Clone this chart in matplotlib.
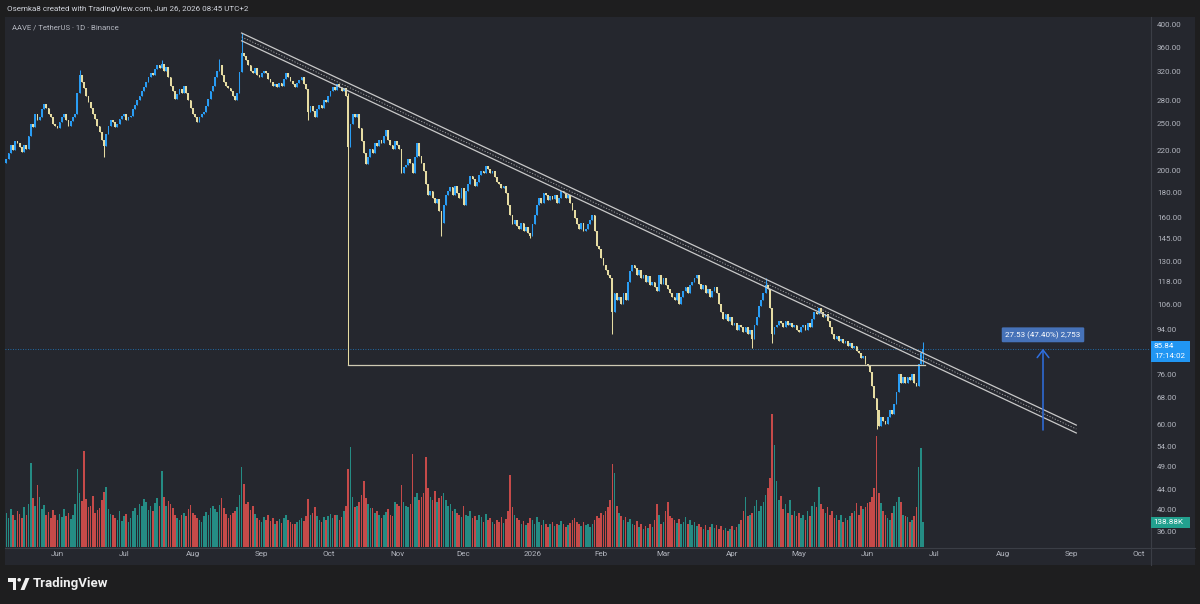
import numpy as np
import pandas as pd
import matplotlib
matplotlib.use("Agg")
import matplotlib.pyplot as plt
import matplotlib.dates as mdates
from matplotlib.patches import Rectangle, Polygon, Circle
from matplotlib.lines import Line2D
from matplotlib.transforms import Affine2D
from matplotlib.ticker import FixedLocator, FixedFormatter, NullLocator

plt.rcParams['font.family'] = ['Roboto', 'DejaVu Sans']

# ---------------- data ----------------
start_date = '2025-05-09'
first_open = 208.0
closes = [
    212, 218, 226, 221, 230, 228, 224, 219, 226, 222,
    236, 250, 246, 262, 255, 258, 268, 275, 270, 262,
    258, 250, 248, 245, 252, 258, 262, 255, 248, 254,
    258, 262, 290, 315, 305, 296, 285, 278, 270, 262,
    256, 248, 240, 232, 225, 238, 248, 255, 252, 246,
    250, 256, 260, 262, 255, 258, 260, 268, 274, 280,
    286, 292, 298, 305, 312, 318, 315, 325, 330, 326,
    332, 322, 328, 312, 300, 292, 282, 288, 295, 290,
    300, 290, 280, 270, 262, 258, 252, 258, 262, 265,
    272, 282, 292, 300, 312, 322, 330, 316, 305, 300,
    296, 292, 285, 280, 290, 320, 350, 345, 338, 330,
    322, 318, 326, 315, 312, 318, 322, 318, 310, 305,
    300, 302, 298, 304, 300, 310, 318, 312, 306, 302,
    298, 304, 308, 312, 302, 295, 265, 272, 266, 258,
    268, 274, 270, 280, 278, 286, 292, 298, 294, 302,
    298, 292, 296, 285, 224, 250, 262, 258, 262, 245,
    230, 218, 207, 214, 222, 218, 228, 225, 232, 228,
    236, 243, 232, 226, 222, 230, 226, 222, 198, 204,
    206, 212, 208, 198, 214, 228, 215, 208, 200, 188,
    178, 182, 176, 172, 175, 165, 156, 170, 178, 182,
    185, 178, 186, 180, 176, 184, 170, 182, 188, 195,
    192, 186, 190, 196, 200, 198, 205, 202, 198, 200,
    194, 190, 188, 184, 186, 180, 170, 162, 155, 158,
    154, 152, 156, 150, 153, 149, 147, 155, 162, 170,
    176, 172, 180, 178, 174, 177, 175, 178, 172, 176,
    182, 180, 176, 178, 172, 166, 160, 155, 152, 156,
    150, 152, 155, 158, 162, 150, 140, 138, 132, 128,
    125, 122, 120, 102, 112, 108, 110, 106, 112, 108,
    118, 124, 128, 126, 122, 125, 120, 122, 118, 121,
    116, 118, 115, 113, 122, 117, 120, 116, 114, 112,
    110, 108, 112, 106, 110, 113, 115, 112, 116, 118,
    120, 122, 117, 114, 116, 112, 114, 110, 113, 115,
    112, 106, 102, 99, 101, 98, 100, 96, 97, 94,
    96, 95, 93, 95, 92, 94, 90, 96, 100, 105,
    108, 112, 116, 114, 104, 92, 95, 96, 98, 97,
    95, 98, 96, 97, 95, 96, 94, 93, 95, 96,
    94, 97, 95, 99, 102, 101, 104, 102, 100, 101,
    98, 95, 92, 90, 91, 89, 90, 88, 89, 87,
    88, 86, 87, 85, 84, 82, 83, 80, 79, 77,
    72, 68, 64, 59.5, 62, 61, 60, 62, 64, 63,
    66, 70, 76, 73, 75, 73, 75, 74, 76, 73,
    72, 80, 84, 85.84,
]
volumes_k = [
    190, 160, 210, 175, 150, 200, 185, 160, 220, 175,
    240, 467, 270, 230, 344, 280, 210, 235, 180, 195,
    160, 205, 175, 150, 185, 165, 210, 170, 190, 155,
    175, 240, 433, 300, 255, 533, 265, 220, 230, 283,
    190, 205, 215, 260, 305, 333, 210, 185, 175, 160,
    150, 200, 145, 170, 185, 140, 160, 200, 215, 180,
    240, 225, 265, 250, 205, 230, 200, 245, 270, 225,
    422, 280, 230, 255, 240, 215, 180, 160, 150, 175,
    190, 170, 210, 235, 190, 175, 160, 150, 140, 170,
    195, 180, 215, 230, 210, 195, 235, 272, 215, 185,
    160, 175, 190, 200, 220, 289, 444, 350, 240, 250,
    205, 230, 185, 160, 150, 140, 165, 150, 175, 145,
    160, 130, 145, 155, 135, 160, 175, 150, 140, 130,
    125, 140, 150, 160, 145, 170, 266, 180, 190, 222,
    170, 150, 140, 165, 150, 170, 185, 160, 175, 180,
    150, 165, 200, 230, 433, 555, 280, 220, 230, 250,
    290, 366, 270, 240, 215, 217, 190, 200, 175, 160,
    180, 195, 210, 180, 170, 250, 240, 230, 344, 250,
    230, 220, 240, 516, 280, 300, 260, 280, 300, 500,
    330, 280, 260, 310, 250, 270, 283, 300, 260, 230,
    240, 200, 210, 190, 175, 165, 230, 180, 170, 200,
    160, 170, 150, 175, 165, 140, 185, 150, 160, 140,
    130, 150, 140, 165, 135, 155, 200, 400, 220, 180,
    160, 150, 130, 145, 120, 135, 160, 150, 130, 165,
    140, 120, 150, 130, 110, 125, 140, 115, 130, 120,
    145, 125, 110, 120, 135, 150, 160, 140, 125, 115,
    140, 120, 130, 110, 125, 150, 170, 160, 190, 175,
    200, 220, 260, 460, 410, 230, 190, 170, 150, 165,
    140, 155, 130, 120, 145, 110, 125, 100, 115, 105,
    130, 110, 150, 240, 180, 130, 140, 200, 250, 170,
    160, 150, 135, 155, 125, 140, 165, 130, 150, 120,
    140, 115, 125, 110, 100, 120, 95, 110, 130, 105,
    120, 100, 115, 95, 105, 90, 100, 115, 95, 110,
    130, 150, 200, 280, 170, 180, 190, 230, 260, 200,
    230, 250, 290, 330, 385, 739, 566, 365, 260, 285,
    210, 240, 190, 260, 180, 200, 170, 190, 160, 175,
    150, 200, 170, 230, 250, 220, 333, 240, 210, 190,
    220, 180, 200, 160, 175, 150, 180, 140, 160, 150,
    170, 190, 200, 245, 180, 230, 210, 220, 244, 250,
    278, 330, 616, 300, 244, 200, 180, 160, 150, 190,
    230, 250, 278, 250, 180, 170, 165, 140, 150, 170,
    222, 444, 550, 138.88,
]
wick_highs = {'2025-06-11': 323, '2025-07-18': 338, '2025-08-13': 340,
              '2025-08-23': 385, '2025-10-10': 290, '2026-04-16': 120,
              '2026-06-26': 88.5}
wick_lows = {'2025-06-22': 214, '2025-09-22': 255, '2025-10-10': 79.5,
             '2025-11-21': 147, '2025-12-31': 145, '2026-02-06': 92,
             '2026-04-10': 86, '2026-04-19': 88, '2026-06-05': 58.5,
             '2026-06-26': 80}

month_ticks = ['2025-06-01', '2025-07-01', '2025-08-01', '2025-09-01', '2025-10-01',
               '2025-11-01', '2025-12-01', '2026-01-01', '2026-02-01', '2026-03-01',
               '2026-04-01', '2026-05-01', '2026-06-01', '2026-07-01', '2026-08-01',
               '2026-09-01', '2026-10-01']
month_labels = ['Jun', 'Jul', 'Aug', 'Sep', 'Oct', 'Nov', 'Dec', '2026', 'Feb', 'Mar',
                'Apr', 'May', 'Jun', 'Jul', 'Aug', 'Sep', 'Oct']
price_ticks = [400, 360, 320, 280, 250, 220, 200, 180, 160, 145, 130, 118, 106, 94,
               76, 68, 60, 54, 49, 44, 40, 36]

last_price = 85.84
countdown = '17:14:02'
last_volume_label = '138.88K'

channel_dates = ['2025-08-23', '2026-09-03']
channel_upper = [385, 59.7]
channel_lower = [371, 57.5]
support_price = 79.5
support_dates = ['2025-10-10', '2026-06-27']
measure_date = '2026-08-19'
measure_from, measure_to = 58.31, 85.84
measure_label = '27.53 (47.40%) 2,753'

title = 'Osemka8 created with TradingView.com, Jun 26, 2026 08:45 UTC+2'
symbol = 'AAVE / TetherUS \u00b7 1D \u00b7 Binance'

# ---------------- styles ----------------
W, H = 1200, 604
OUTER = '#1e1e1f'
PANEL = '#25272e'
SEP = '#3b3e46'
TXT = '#b2b5be'
UP = '#2a9df4'
DOWN = '#e6dca2'
VUP = '#26a69a'
VDN = '#ef5350'
LINE = '#c9c9c9'

fig = plt.figure(figsize=(W / 100, H / 100), dpi=100)
fig.patch.set_facecolor(OUTER)
PX = Affine2D().scale(1, -1).translate(0, H)  # pixel coords from top-left


def fx(px):
    return px / W


def fy(py):
    return 1 - py / H


fig.patches.append(Rectangle((5, 17), 1190, 548, transform=PX, facecolor=PANEL,
                             edgecolor='none', zorder=-2))
fig.add_artist(Line2D([1150.5, 1150.5], [17, 565], transform=PX, color=SEP, lw=0.8, zorder=-1))
fig.add_artist(Line2D([5, 1195], [547.5, 547.5], transform=PX, color=SEP, lw=0.8, zorder=-1))

rect = [fx(5), fy(547), 1145 / W, 530 / H]
axv = fig.add_axes(rect)
ax = fig.add_axes(rect)
for a in (axv, ax):
    a.set_facecolor('none')
    for s in a.spines.values():
        s.set_visible(False)

dates = pd.date_range(start_date, periods=len(closes), freq='D')
x = mdates.date2num(dates)
c = np.array(closes, dtype=float)
o = np.array([first_open] + closes[:-1], dtype=float)
hi = np.maximum(o, c)
lo = np.minimum(o, c)
keys = [d.strftime('%Y-%m-%d') for d in dates]
for i, k in enumerate(keys):
    if k in wick_highs:
        hi[i] = max(hi[i], wick_highs[k])
    if k in wick_lows:
        lo[i] = min(lo[i], wick_lows[k])
up = c >= o

d0 = mdates.date2num(pd.Timestamp('2025-06-01'))
xlim = (d0 - 23.6, d0 + 492.2)

# volume
v = np.array(volumes_k, dtype=float)
axv.bar(x, v, width=0.72, color=np.where(up, VUP, VDN), alpha=0.8, linewidth=0)
axv.set_xlim(*xlim)
axv.set_ylim(0, 530 * 5.555)
axv.set_xticks([])
axv.set_yticks([])

# candles
ax.set_yscale('log')
ax.vlines(x, lo, hi, colors=np.where(up, UP, DOWN), lw=0.75, zorder=3)
body_h = np.maximum(np.abs(c - o), c * 0.004)
ax.bar(x, body_h, bottom=np.minimum(o, c), width=0.8, color=np.where(up, UP, DOWN),
       linewidth=0, zorder=4)
ax.set_xlim(*xlim)
ax.set_ylim(33.44, 415.5)

# drawings
cx = mdates.date2num(pd.to_datetime(channel_dates))
ax.plot(cx, channel_upper, color=LINE, lw=0.9, zorder=5)
ax.plot(cx, channel_lower, color=LINE, lw=0.9, zorder=5)
ax.plot(cx, np.sqrt(np.array(channel_upper) * np.array(channel_lower)), color=LINE,
        lw=0.6, ls=(0, (1.5, 2)), zorder=5, alpha=0.8)
sx = mdates.date2num(pd.to_datetime(support_dates))
ax.plot(sx, [support_price, support_price], color='#cfcab4', lw=0.9, zorder=5)
ax.axhline(last_price, color='#2196f3', lw=0.6, ls=(0, (1, 2)), zorder=2, alpha=0.8)

mx = mdates.date2num(pd.Timestamp(measure_date))
ax.annotate('', xy=(mx, measure_to), xytext=(mx, measure_from),
            arrowprops=dict(arrowstyle='->,head_length=0.55,head_width=0.42',
                            color='#2f6fe0', lw=1.1, shrinkA=0, shrinkB=0), zorder=6)
ax.annotate(measure_label, xy=(mx, measure_to), xytext=(0, 10), textcoords='offset points',
            ha='center', va='center', fontsize=5.8, color='white', zorder=7,
            bbox=dict(boxstyle='round,pad=0.45,rounding_size=0.15', fc='#4672b8', ec='none'))

# axes ticks
ax.yaxis.tick_right()
ax.yaxis.set_major_locator(FixedLocator(price_ticks))
ax.yaxis.set_major_formatter(FixedFormatter([f'{p:.2f}' for p in price_ticks]))
ax.yaxis.set_minor_locator(NullLocator())
ax.tick_params(axis='y', length=0, pad=5, labelsize=5.8, labelcolor=TXT)
ax.set_xticks(mdates.date2num(pd.to_datetime(month_ticks)))
ax.set_xticklabels(month_labels)
ax.xaxis.set_minor_locator(NullLocator())
ax.tick_params(axis='x', length=0, pad=3, labelsize=5.8, labelcolor=TXT)

# price & volume labels on the right scale
fig.patches.append(Rectangle((1151, 341), 39, 21, transform=PX, facecolor='#2196f3',
                             edgecolor='none', zorder=8))
fig.text(1154, 346.5, f'{last_price:.2f}', transform=PX, fontsize=5.8, color='white',
         va='center', ha='left', zorder=9)
fig.text(1154, 356.5, countdown, transform=PX, fontsize=5.8, color='white',
         va='center', ha='left', zorder=9)
fig.patches.append(Rectangle((1151, 517), 39, 10.5, transform=PX, facecolor='#22a08e',
                             edgecolor='none', zorder=8))
fig.text(1153, 522.3, last_volume_label, transform=PX, fontsize=5.8, color='white',
         va='center', ha='left', zorder=9)

# header texts
fig.text(7, 9.5, title, transform=PX, fontsize=5.8, color='#d1d4dc', va='center', ha='left')
fig.text(12, 27, symbol, transform=PX, fontsize=5.6, color=TXT, va='center', ha='left')

# TradingView logo
fig.patches.append(Polygon([(8, 578), (16, 578), (16, 590), (12.5, 590), (12.5, 581.5), (8, 581.5)],
                           closed=True, transform=PX, facecolor='#f0f0f0', edgecolor='none'))
fig.patches.append(Circle((19.2, 579.8), 1.8, transform=PX, facecolor='#f0f0f0', edgecolor='none'))
fig.patches.append(Polygon([(20.5, 590), (24.5, 590), (29.5, 578), (25.5, 578)], closed=True,
                           transform=PX, facecolor='#f0f0f0', edgecolor='none'))
fig.text(33, 584, 'TradingView', transform=PX, fontsize=9.5, fontweight='bold',
         color='#f0f0f0', va='center', ha='left')

fig.savefig('out.png', dpi=100, facecolor=OUTER)
